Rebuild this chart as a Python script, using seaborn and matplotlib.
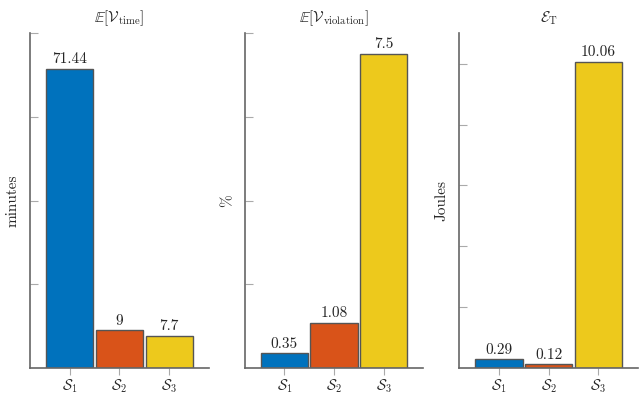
import matplotlib
matplotlib.use("Agg")
import matplotlib.pyplot as plt
import seaborn as sns
import pandas as pd

# --- data ---
strategies = ["S1", "S2", "S3"]
tick_labels = [r"$\mathcal{S}_1$", r"$\mathcal{S}_2$", r"$\mathcal{S}_3$"]
time_vals = [71.44, 9, 7.7]
violation_vals = [0.35, 1.08, 7.5]
energy_vals = [0.29, 0.12, 10.06]
value_labels = [["71.44", "9", "7.7"], ["0.35", "1.08", "7.5"], ["0.29", "0.12", "10.06"]]

titles = [r"$\mathbb{E}[\mathcal{V}_{\rm time}]$",
          r"$\mathbb{E}[\mathcal{V}_{\rm violation}]$",
          r"$\mathcal{E}_{\rm T}$"]
ylabels = ["minutes", "%", "Joules"]
ylims = [(0, 80), (0, 8), (0, 11)]
ytick_sets = [[20, 40, 60, 80], [2, 4, 6, 8], [2, 4, 6, 8, 10]]
colors = ["#0072BD", "#D95319", "#EDC91C"]

sns.set_style("white")
plt.rcParams["font.family"] = ["cmr10", "DejaVu Serif"]
plt.rcParams["mathtext.fontset"] = "cm"
plt.rcParams["axes.unicode_minus"] = False

fig, axes = plt.subplots(1, 3, figsize=(6.4, 3.95), dpi=100)
fig.subplots_adjust(left=0.047, right=0.997, top=0.916, bottom=0.068, wspace=0.2)

all_vals = [time_vals, violation_vals, energy_vals]
for i, ax in enumerate(axes):
    df = pd.DataFrame({"strategy": strategies, "value": all_vals[i]})
    sns.barplot(data=df, x="strategy", y="value", hue="strategy",
                palette=colors, saturation=1, width=0.95, edgecolor="#555555",
                linewidth=1.0, legend=False, ax=ax)
    for c, cont in enumerate(ax.containers):
        ax.bar_label(cont, labels=[value_labels[i][c]], padding=2, fontsize=11)
    ax.set_xlim(-0.8, 2.8)
    ax.set_ylim(*ylims[i])
    ax.set_yticks(ytick_sets[i])
    ax.set_yticklabels([])
    ax.set_xticks(range(3))
    ax.set_xticklabels(tick_labels, fontsize=10.5)
    ax.set_xlabel("")
    ax.set_ylabel(ylabels[i], fontsize=11, labelpad=4)
    ax.set_title(titles[i], fontsize=11, pad=8)
    for side in ["top", "right"]:
        ax.spines[side].set_visible(False)
    for side in ["left", "bottom"]:
        ax.spines[side].set_color("#666666")
        ax.spines[side].set_linewidth(1.2)
    ax.tick_params(axis="y", direction="in", length=6, color="#aaaaaa", left=True)
    ax.tick_params(axis="x", direction="out", length=5, color="#aaaaaa", bottom=True, pad=2)

fig.savefig("out.png", dpi=100)
